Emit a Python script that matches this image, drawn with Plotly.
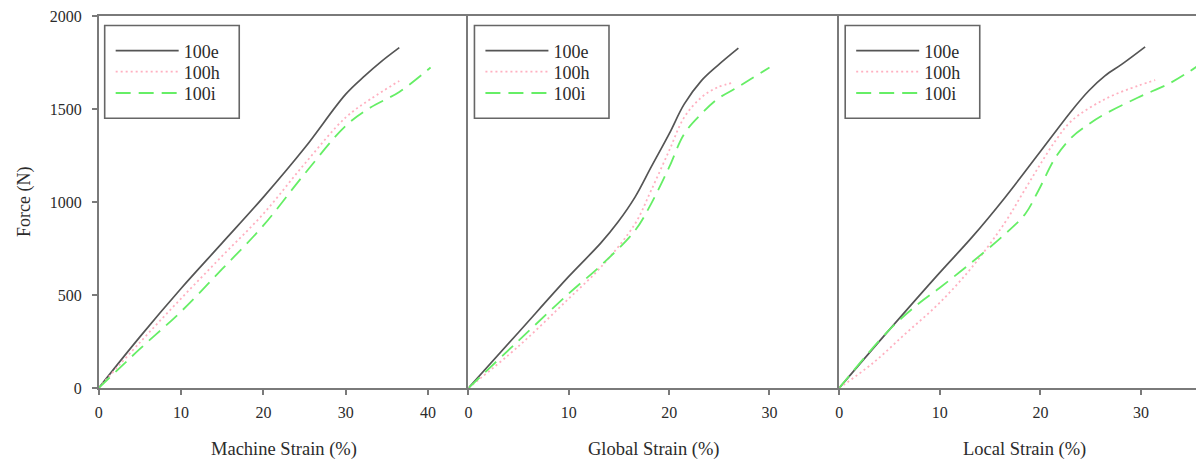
import plotly.graph_objects as go

# ---- Data ----
series_names = ["100e", "100h", "100i"]

# Panel 1: Machine strain
m_e_x = [0, 5, 10, 15, 20, 25, 30, 32.3, 34.3, 36.5]
m_e_y = [0, 275, 535, 780, 1026, 1290, 1580, 1678, 1755, 1830]
m_h_x = [0, 5, 10, 15, 20, 25, 30, 33, 36.5]
m_h_y = [0, 245, 481, 710, 937, 1205, 1455, 1553, 1651]
m_i_x = [0, 5, 10, 15, 20, 25, 30, 33, 36.5, 40.3]
m_i_y = [0, 210, 411, 640, 874, 1151, 1410, 1508, 1592, 1723]

# Panel 2: Global strain
g_e_x = [0, 5, 10, 13.2, 14.9, 16.6, 18.2, 20, 21.5, 23.2, 24.8, 26.9]
g_e_y = [0, 300, 600, 780, 892, 1026, 1187, 1366, 1526, 1651, 1732, 1827]
g_h_x = [0, 5, 10, 13.2, 16.6, 18.2, 20, 21.5, 23.2, 24.8, 26.5]
g_h_y = [0, 225, 481, 650, 883, 1062, 1276, 1455, 1562, 1616, 1643]
g_i_x = [0, 5, 10, 13.2, 16.6, 18.2, 20, 21.5, 23.2, 24.8, 26.5, 28.1, 30]
g_i_y = [0, 255, 508, 659, 847, 990, 1187, 1366, 1473, 1553, 1607, 1660, 1723]

# Panel 3: Local strain
l_e_x = [0, 4.95, 9.9, 13.2, 16.5, 19.8, 23.1, 24.8, 26.4, 28.1, 30.4]
l_e_y = [0, 311, 615, 811, 1026, 1258, 1491, 1598, 1678, 1741, 1834]
l_h_x = [0, 3.3, 6.6, 9.9, 13.2, 16.5, 18.2, 19.8, 21.5, 23.1, 26.4, 29.7, 31.4]
l_h_y = [0, 132, 293, 454, 650, 892, 1044, 1187, 1330, 1437, 1553, 1625, 1655]
l_i_x = [0, 4.95, 7.9, 9.9, 13.2, 16.5, 18.5, 19.8, 21.5, 23.1, 24.8, 26.4, 29.7, 33, 35.5]
l_i_y = [0, 311, 454, 535, 677, 829, 937, 1062, 1240, 1348, 1419, 1473, 1562, 1643, 1727]

x_titles = ["Machine Strain (%)", "Global Strain (%)", "Local Strain (%)"]
y_title = "Force (N)"
x_ranges = [[0, 44.9], [0, 36.95], [0, 36.25]]
y_ticks = [0, 500, 1000, 1500, 2000]

panels = [
    [(m_e_x, m_e_y), (m_h_x, m_h_y), (m_i_x, m_i_y)],
    [(g_e_x, g_e_y), (g_h_x, g_h_y), (g_i_x, g_i_y)],
    [(l_e_x, l_e_y), (l_h_x, l_h_y), (l_i_x, l_i_y)],
]

# ---- Style / geometry (page pixels; page body has an 8px margin) ----
OFF = 8
W, H = 1204 - OFF, 464 - OFF
L_PX = [95, 466, 838]
R_PX = [466, 838, 1204]
TOP, BOT = 15, 388
LEG_ROWS = [50, 71, 92.5]
FONT = "Liberation Serif"
TXT = "#2b2b2b"
AX = "#7a7a7a"
styles = [
    dict(color="#555555", width=1.7, dash="solid"),
    dict(color="#ffb0c0", width=1.8, dash="2px,3px"),
    dict(color="#66ee66", width=1.8, dash="15px,8px"),
]

def px2paper_x(px):
    return (px - OFF) / W

def py2paper_y(py):
    return (BOT - py) / (BOT - TOP)

fig = go.Figure()
layout = dict(
    width=W, height=H,
    margin=dict(l=0, r=0, t=TOP - OFF, b=H - (BOT - OFF), pad=0),
    paper_bgcolor="white", plot_bgcolor="white",
    font=dict(family=FONT, size=16, color=TXT),
    annotations=[], shapes=[],
)

for p, data in enumerate(panels):
    xa = "x" if p == 0 else f"x{p+1}"
    ya = "y" if p == 0 else f"y{p+1}"
    bx0 = L_PX[p] + 6
    for s, (xs, ys) in enumerate(data):
        n = p * 3 + s + 1
        lk = "legend" if n == 1 else f"legend{n}"
        fig.add_trace(go.Scatter(
            x=xs, y=ys, name=series_names[s], mode="lines",
            line=dict(shape="spline", smoothing=1.0, **styles[s]),
            xaxis=xa, yaxis=ya, legend=lk, showlegend=True,
        ))
        layout[lk] = dict(
            x=px2paper_x(bx0 + 6), y=py2paper_y(LEG_ROWS[s]),
            xanchor="left", yanchor="middle",
            bgcolor="rgba(0,0,0,0)", borderwidth=0,
            font=dict(family=FONT, size=18, color=TXT),
            itemwidth=63,
        )

for p in range(3):
    xk = "xaxis" if p == 0 else f"xaxis{p+1}"
    yk = "yaxis" if p == 0 else f"yaxis{p+1}"
    ya = "y" if p == 0 else f"y{p+1}"
    xa = "x" if p == 0 else f"x{p+1}"
    layout[xk] = dict(
        domain=[px2paper_x(L_PX[p]), min(1.0, px2paper_x(R_PX[p]))],
        range=x_ranges[p], anchor=ya, dtick=10, tick0=0,
        showline=True, linecolor=AX, linewidth=1.6, mirror=True,
        ticks="outside", ticklen=5, tickcolor=AX, tickwidth=1.5,
        ticklabelstandoff=4,
        showgrid=False, zeroline=False,
        tickfont=dict(family=FONT, size=16, color=TXT),
    )
    layout[yk] = dict(
        domain=[0, 1], range=[0, 2000], anchor=xa,
        tickvals=y_ticks,
        showline=True, linecolor=AX, linewidth=1.6, mirror=False,
        ticks="outside" if p == 0 else "", ticklen=5, tickcolor=AX, tickwidth=1.5,
        ticklabelstandoff=7, ticklabeloverflow="allow",
        showticklabels=(p == 0),
        showgrid=False, zeroline=False,
        tickfont=dict(family=FONT, size=16, color=TXT),
    )
    layout["annotations"].append(dict(
        text=x_titles[p], xref="paper", yref="paper",
        x=px2paper_x(L_PX[p] + 186), y=py2paper_y(450),
        xanchor="center", yanchor="middle",
        showarrow=False, font=dict(family=FONT, size=18.5, color=TXT),
    ))
    bx0 = L_PX[p] + 6
    layout["shapes"].append(dict(
        type="rect", xref="paper", yref="paper",
        x0=px2paper_x(bx0), x1=px2paper_x(bx0 + 135),
        y0=py2paper_y(117.5), y1=py2paper_y(24.5),
        line=dict(color="#666666", width=1.6), fillcolor="rgba(0,0,0,0)",
    ))

layout["annotations"].append(dict(
    text=y_title, xref="paper", yref="paper",
    x=px2paper_x(20), y=0.5, textangle=-90,
    xanchor="center", yanchor="middle", showarrow=False,
    font=dict(family=FONT, size=18, color=TXT),
))

fig.update_layout(**layout)
fig.write_html("out.html")
